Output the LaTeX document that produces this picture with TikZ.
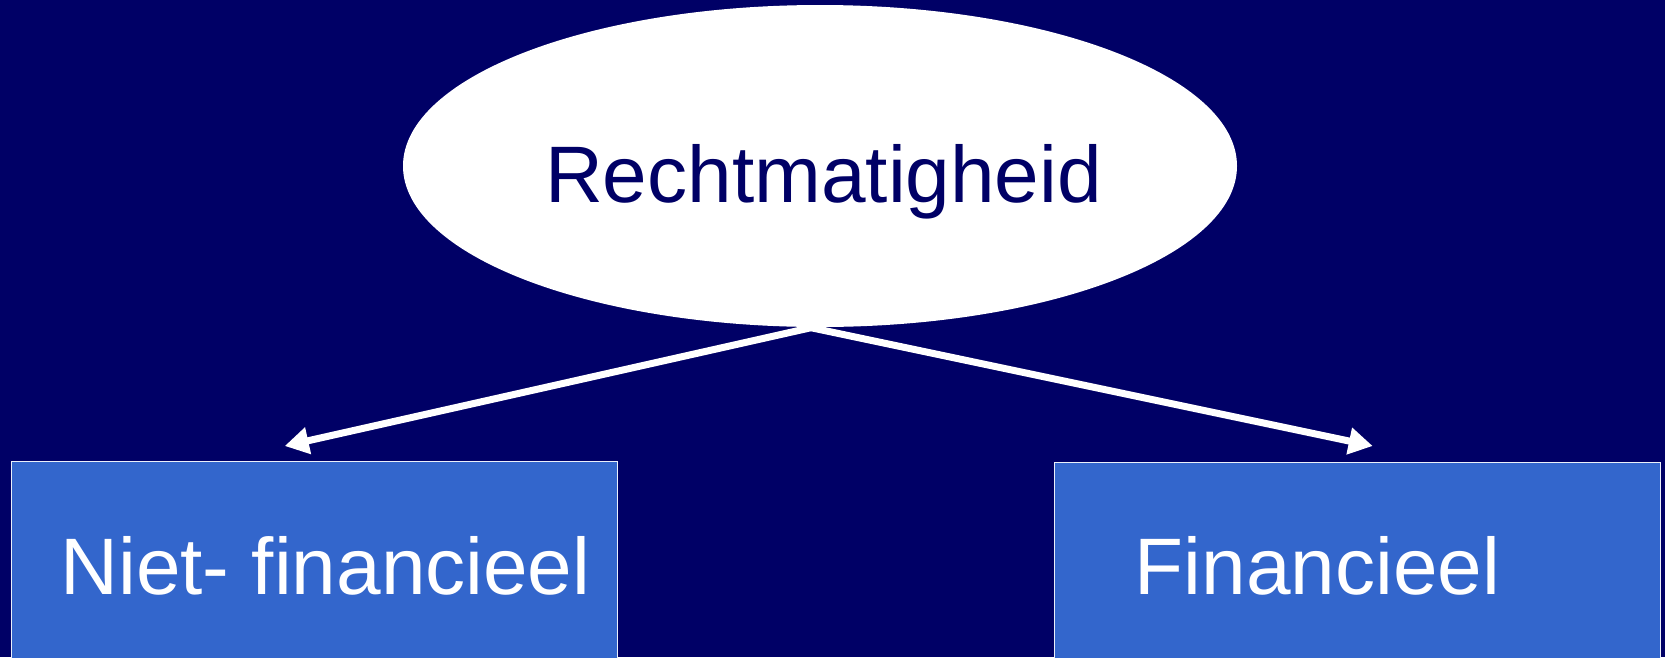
\documentclass[tikz,border=0pt]{standalone}
\usepackage{fontspec}
\setmainfont{Liberation Sans}
\usetikzlibrary{shapes.geometric,arrows.meta}
\definecolor{navy}{HTML}{000066}
\definecolor{boxblue}{HTML}{3366CC}

\begin{document}
\begin{tikzpicture}[
    blok/.style={draw=white!90!boxblue,line width=0.4pt,fill=boxblue,
      minimum width=6.06cm,minimum height=2.4cm,anchor=north west,inner sep=0pt},
    woord/.style={anchor=base,inner sep=0pt,font=\fontsize{22.8}{27}\selectfont},
    pijl/.style={white,line width=0.07cm,-{Triangle[length=0.24cm,width=0.26cm]}}
  ]
    \clip (0,0) rectangle (16.65,6.57);
    \fill[navy] (0,0) rectangle (16.65,6.57);
    \node[ellipse,fill=white,minimum width=8.34cm,minimum height=3.22cm,inner sep=0pt]
      (recht) at (8.2,4.91) {};
    \node[woord,text=navy] (rechtlabel) at (8.235,4.55) {Rechtmatigheid};
    \node[blok] (niet) at (0.11,1.96) {};
    \node[blok] (fin) at (10.54,1.95) {};
    \node[woord,text=white] (nietlabel) at (3.255,0.63) {Niet- financieel};
    \node[woord,text=white] (finlabel) at (13.175,0.63) {Financieel};
    \draw[pijl] ([xshift=-0.09cm]recht.south)
      -- ([xshift=-0.3cm,yshift=0.15cm]niet.north);
    \draw[pijl] ([xshift=-0.09cm]recht.south)
      -- ([xshift=0.15cm,yshift=0.16cm]fin.north);
  \end{tikzpicture}
\end{document}
